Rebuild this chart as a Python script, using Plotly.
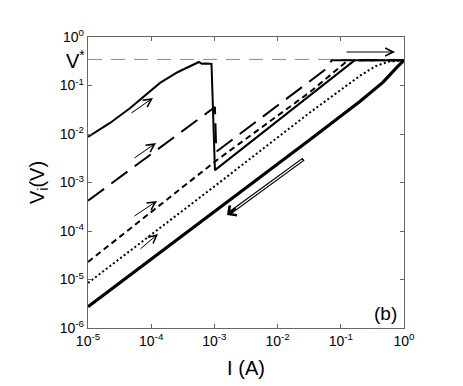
import math
import plotly.graph_objects as go

# ===== data =====
V_STAR = 0.345

# sweep 1 (solid, highest start) with switch near 1 mA
I_s1 = [1e-5, 2.23e-5, 4.6e-5, 1.38e-4, 2.65e-4, 5.7e-4, 6.3e-4, 7.5e-4, 9.0e-4, 1.02e-3, 0.165, 1.0]
V_s1 = [8.7e-3, 1.69e-2, 3.4e-2, 0.113, 0.19, 0.305, 0.28, 0.285, 0.28, 1.8e-3, 0.33, 0.33]

# sweep 2 (long dash)
I_s2 = [1e-5, 1.02e-3, 1.07e-3, 0.039, 0.056, 0.072, 1.0]
V_s2 = [4.2e-4, 3.6e-2, 4.3e-3, 0.143, 0.21, 0.33, 0.33]

# sweep 3 (short dash)
I_s3 = [1e-5, 1.1e-3, 0.0326, 0.13, 1.0]
V_s3 = [2.3e-5, 2.91e-3, 7.35e-2, 0.33, 0.33]

# sweep 4 (dotted)
I_s4 = [1e-5, 1e-3, 3.16e-2, 0.1, 0.2, 0.355, 0.56, 1.0]
V_s4 = [8.5e-6, 8.3e-4, 2.7e-2, 8.3e-2, 0.158, 0.25, 0.31, 0.33]

# down sweep (thick solid)
I_dn = [1e-5, 1e-3, 3.16e-2, 0.2, 0.468, 0.776, 1.0]
V_dn = [2.75e-6, 2.5e-4, 7.4e-3, 4.7e-2, 0.117, 0.24, 0.33]

x_ticks = [1e-5, 1e-4, 1e-3, 1e-2, 1e-1, 1]
x_labels = ["10<sup>-5</sup>", "10<sup>-4</sup>", "10<sup>-3</sup>", "10<sup>-2</sup>", "10<sup>-1</sup>", "10<sup>0</sup>"]
y_ticks = [1e-6, 1e-5, 1e-4, 1e-3, 1e-2, 1e-1, 1]
y_labels = ["10<sup>-6</sup>", "10<sup>-5</sup>", "10<sup>-4</sup>", "10<sup>-3</sup>", "10<sup>-2</sup>", "10<sup>-1</sup>", "10<sup>0</sup>"]

FONT = "Liberation Sans, Arial, sans-serif"
AX = "#666666"

fig = go.Figure()

# V* reference line
fig.add_trace(go.Scatter(x=[1e-5, 1], y=[V_STAR, V_STAR], mode="lines",
                         line=dict(color="#8a8a8a", width=1, dash="14px,9px")))

fig.add_trace(go.Scatter(x=I_dn, y=V_dn, mode="lines",
                         line=dict(color="black", width=3.2)))
fig.add_trace(go.Scatter(x=I_s4, y=V_s4, mode="lines",
                         line=dict(color="black", width=2, dash="2px,2.5px")))
fig.add_trace(go.Scatter(x=I_s3, y=V_s3, mode="lines",
                         line=dict(color="black", width=2, dash="6px,4px")))
fig.add_trace(go.Scatter(x=I_s2, y=V_s2, mode="lines",
                         line=dict(color="black", width=2, dash="20px,9px")))
fig.add_trace(go.Scatter(x=I_s1, y=V_s1, mode="lines",
                         line=dict(color="black", width=2)))

# ===== arrows (log10 coordinates) =====
def arrow(tail, tip, width=1, head=5, size=1.6, color="black"):
    fig.add_annotation(x=tip[0], y=tip[1], ax=tail[0], ay=tail[1],
                       xref="x", yref="y", axref="x", ayref="y", text="",
                       showarrow=True, arrowhead=head, arrowsize=size,
                       arrowwidth=width, arrowcolor=color)

arrow((-4.335, -1.588), (-3.972, -1.258))
arrow((-4.288, -2.515), (-3.924, -2.186))
arrow((-4.288, -3.711), (-3.908, -3.381))
arrow((-4.193, -4.392), (-3.892, -4.062))
arrow((-0.934, -0.309), (-0.142, -0.309))
# double-line arrow for the down sweep
arrow((-1.566, -2.495), (-2.801, -3.670), width=3.6, head=4, size=0.65)
arrow((-1.585, -2.513), (-2.66, -3.535), width=1.3, head=0, color="white")

fig.add_annotation(x=0, y=math.log10(V_STAR), xref="paper", yref="y",
                   text="V<sup>*</sup>", showarrow=False, xanchor="right",
                   xshift=-1, font=dict(size=20, family=FONT, color="black"))
fig.add_annotation(x=1, y=0, xref="paper", yref="paper", text="(b)",
                   showarrow=False, xanchor="right", yanchor="bottom",
                   xshift=-5, yshift=2, font=dict(size=19, family=FONT, color="black"))

# page body adds an 8px offset, so the figure is 8px smaller with shifted margins
fig.update_layout(
    width=455, height=378,
    margin=dict(l=80, r=59, t=29, b=58),
    plot_bgcolor="white", paper_bgcolor="white",
    showlegend=False,
    font=dict(family=FONT, color="black", size=14),
)
fig.update_xaxes(type="log", range=[-5, 0], tickvals=x_ticks, ticktext=x_labels,
                 ticks="inside", ticklen=4, tickcolor=AX, showline=True, linecolor=AX,
                 linewidth=1.3, mirror="ticks", showgrid=False, zeroline=False,
                 automargin=False,
                 title=dict(text="I (A)", font=dict(size=20, family=FONT), standoff=13))
fig.update_yaxes(type="log", range=[-6, 0], tickvals=y_ticks, ticktext=y_labels,
                 ticks="inside", ticklen=4, tickcolor=AX, showline=True, linecolor=AX,
                 linewidth=1.3, mirror="ticks", showgrid=False, zeroline=False,
                 automargin=False,
                 title=dict(text="V<sub>i</sub>(V)", font=dict(size=20, family=FONT), standoff=9))

fig.write_html("out.html")
